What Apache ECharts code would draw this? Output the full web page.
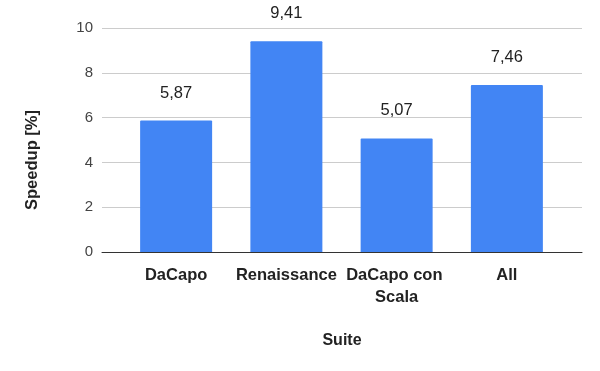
<!DOCTYPE html>
<html>
<head>
<meta charset="utf-8">
<script src="https://cdn.jsdelivr.net/npm/echarts@6/dist/echarts.min.js"></script>
<style>html,body{margin:0;padding:0;background:#fff;}#c{width:600px;height:371px;}</style>
</head>
<body>
<div id="c"></div>
<script>
const categories = ["DaCapo", "Renaissance", "DaCapo con Scala", "All"];
const speedup = [5.87, 9.41, 5.07, 7.46];
const yTicks = [0, 2, 4, 6, 8, 10];
const yAxisTitle = "Speedup [%]";
const xAxisTitle = "Suite";

const FONT = "'Liberation Sans', Arial, sans-serif";
const chart = echarts.init(document.getElementById('c'), null, {renderer: 'canvas'});
chart.setOption({
  animation: false,
  backgroundColor: '#ffffff',
  grid: [
    {left: 102, right: 18, top: 28, bottom: 119},
    {left: 121, right: 38, top: 28, bottom: 119}
  ],
  xAxis: [
    {
      gridIndex: 0, type: 'value', min: 0, max: 1,
      axisLine: {show: true, lineStyle: {color: '#333333', width: 1}},
      axisTick: {show: false}, axisLabel: {show: false}, splitLine: {show: false},
      name: xAxisTitle, nameLocation: 'middle', nameGap: 81,
      nameTextStyle: {fontFamily: FONT, fontSize: 16, fontWeight: 'bold', color: '#222222'}
    },
    {
      gridIndex: 1, type: 'category', data: categories,
      axisLine: {show: false}, axisTick: {show: false},
      axisLabel: {
        interval: 0, margin: 12, fontFamily: FONT, fontSize: 16.5, fontWeight: 'bold',
        color: '#222222', lineHeight: 22, width: 110, overflow: 'break'
      }
    }
  ],
  yAxis: [
    {
      gridIndex: 0, type: 'value', min: yTicks[0], max: yTicks[yTicks.length - 1], interval: 2,
      axisLine: {show: false}, axisTick: {show: false},
      axisLabel: {margin: 9, fontFamily: FONT, fontSize: 15, color: '#444444'},
      splitLine: {show: true, lineStyle: {color: '#cccccc', width: 1}}
    },
    {
      gridIndex: 1, type: 'value', min: yTicks[0], max: yTicks[yTicks.length - 1], interval: 2,
      show: false
    }
  ],
  graphic: [{
    type: 'text', x: 32, y: 160, rotation: Math.PI / 2,
    style: {
      text: yAxisTitle, fontFamily: FONT, fontSize: 16.5, fontWeight: 'bold', fill: '#222222',
      align: 'center', verticalAlign: 'middle'
    }
  }],
  series: [{
    type: 'bar', xAxisIndex: 1, yAxisIndex: 1, data: speedup, barWidth: 72,
    itemStyle: {color: '#4285f4', borderRadius: [1, 1, 0, 0]},
    label: {
      show: true, position: 'top', distance: 19, fontFamily: FONT, fontSize: 16.5,
      color: '#222222', formatter: p => p.value.toFixed(2).replace('.', ',')
    }
  }]
});
</script>
</body>
</html>
